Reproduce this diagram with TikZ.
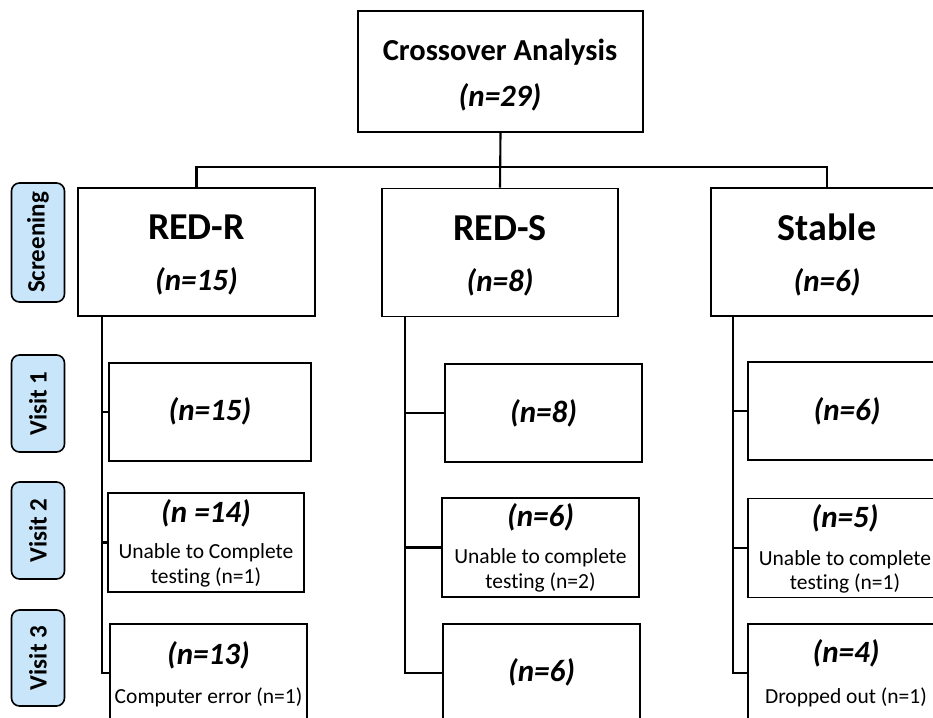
\documentclass[tikz,border=0pt]{standalone}
\usepackage{fontspec}
\setmainfont{Carlito}[Ligatures=NoCommon]
\usetikzlibrary{calc}
\definecolor{pillblue}{RGB}{200,229,250}
\begin{document}
\begin{tikzpicture}[x=1pt,y=-1pt,
  box/.style={draw=black,line width=1.8pt,rectangle,inner sep=0pt,fill=white,minimum height=99pt},
  conn/.style={line width=2.1pt,draw=black},
  pill/.style={draw=black,line width=1.6pt,rounded corners=8pt,fill=pillblue,minimum height=53pt,inner sep=0pt,rotate=90,font=\bfseries\fontsize{25}{28}\selectfont},
  ttl/.style={inner sep=0pt,font=\bfseries\fontsize{38}{42}\selectfont},
  topttl/.style={inner sep=0pt,font=\bfseries\fontsize{30.5}{34}\selectfont},
  nval/.style={inner sep=0pt,font=\bfseries\itshape\fontsize{31}{34}\selectfont},
  small/.style={inner sep=0pt,font=\fontsize{21.5}{25}\selectfont,align=center}]
\clip (0,0) rectangle (933,717);
\fill[white] (0,0) rectangle (933,717);

% pills
\node[pill,minimum width=119pt] (p0) at (38,242.5) {Screening};
\node[pill,minimum width=97pt] (p1) at (38,403.5) {Visit 1};
\node[pill,minimum width=97pt] (p2) at (38,530.5) {Visit 2};
\node[pill,minimum width=96pt] (p3) at (38,658) {Visit 3};

% top box
\node[box,minimum width=285pt,minimum height=121pt] (top) at (500.5,71.5) {};
\node[topttl] (toptxt) at (500,52) {Crossover Analysis};
\node[nval] (topn) at (500,97) {(n=29)};

% level 1
\node[box,minimum width=237pt,minimum height=128pt] (rr) at (196.5,252) {};
\node[box,minimum width=236pt,minimum height=128pt] (rs) at (500,252.5) {};
\node[box,minimum width=232pt,minimum height=128pt] (st) at (827,252) {};
\node[ttl] (rrt) at (196.5,227) {RED-R};
\node[nval] (rrn) at (196.5,281) {(n=15)};
\node[ttl] (rst) at (500,228) {RED-S};
\node[nval] (rsn) at (500,282) {(n=8)};
\node[ttl] (stt) at (827,227) {Stable};
\node[nval] (stn) at (827,282) {(n=6)};

% visit 1
\node[box,minimum width=202pt,minimum height=98pt] (rr1) at (210,412) {};
\node[box,minimum width=197pt,minimum height=98pt] (rs1) at (543.5,413) {};
\node[box,minimum width=198pt,minimum height=98pt] (st1) at (847,411) {};
\node[nval] (rr1n) at (210,411) {(n=15)};
\node[nval] (rs1n) at (543.5,413) {(n=8)};
\node[nval] (st1n) at (847,411) {(n=6)};

% visit 2
\node[box,minimum width=196pt] (rr2) at (206,542.5) {};
\node[box,minimum width=197pt] (rs2) at (540.5,547.5) {};
\node[box,minimum width=194pt] (st2) at (845,548) {};
\node[nval] (rr2n) at (206,513) {(n =14)};
\node[small] (rr2a) at (206,553) {Unable to Complete};
\node[small] (rr2b) at (206,577) {testing (n=1)};
\node[nval] (rs2n) at (540.5,517) {(n=6)};
\node[small] (rs2a) at (540.5,558) {Unable to complete};
\node[small] (rs2b) at (540.5,582) {testing (n=2)};
\node[nval] (st2n) at (845,518) {(n=5)};
\node[small] (st2a) at (845,560) {Unable to complete};
\node[small] (st2b) at (845,583) {testing (n=1)};

% visit 3
\node[box,minimum width=197pt,minimum height=98pt] (rr3) at (208.5,673) {};
\node[box,minimum width=197pt,minimum height=98pt] (rs3) at (541.5,673) {};
\node[box,minimum width=196pt,minimum height=98pt] (st3) at (846,673) {};
\node[nval] (rr3n) at (208.5,655) {(n=13)};
\node[small] (rr3a) at (208.5,697) {Computer error (n=1)};
\node[nval] (rs3n) at (541.5,672) {(n=6)};
\node[nval] (st3n) at (846,653) {(n=4)};
\node[small] (st3a) at (846,697) {Dropped out (n=1)};

% top connectors
\coordinate (busL) at (196.5,167);
\draw[conn] (top.south) -- (rs.north);
\draw[conn] (rr.north) -- (busL) -| (st.north);

% column trunks
\coordinate (rrl) at ($(rr.south west)+(25,0)$);
\coordinate (rsl) at ($(rs.south west)+(24,0)$);
\coordinate (stl) at ($(st.south west)+(23,0)$);
\draw[conn] (rrl) |- (rr3.west);
\draw[conn] (rr1.west) -- (rr1.west -| rrl);
\draw[conn] (rr2.west) -- (rr2.west -| rrl);
\draw[conn] (rsl) |- (rs3.west);
\draw[conn] (rs1.west) -- (rs1.west -| rsl);
\draw[conn] (rs2.west) -- (rs2.west -| rsl);
\draw[conn] (stl) |- (st3.west);
\draw[conn] (st1.west) -- (st1.west -| stl);
\draw[conn] (st2.west) -- (st2.west -| stl);
\end{tikzpicture}
\end{document}
